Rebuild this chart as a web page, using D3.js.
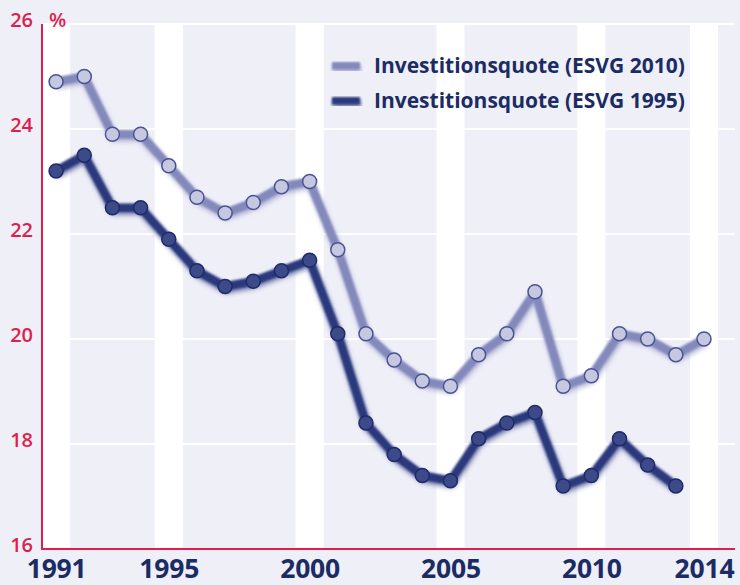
<!DOCTYPE html>
<html>
<head>
<meta charset="utf-8">
<script src="https://cdn.jsdelivr.net/npm/d3@7"></script>
<style>
html,body{margin:0;padding:0;background:#efeff8;}
svg{display:block;}
</style>
</head>
<body>
<svg id="chart" width="740" height="585"></svg>
<script>
const years = [1991,1992,1993,1994,1995,1996,1997,1998,1999,2000,2001,2002,2003,2004,2005,2006,2007,2008,2009,2010,2011,2012,2013,2014];
const esvg2010 = [24.9,25.0,23.9,23.9,23.3,22.7,22.4,22.6,22.9,23.0,21.7,20.1,19.6,19.2,19.1,19.7,20.1,20.9,19.1,19.3,20.1,20.0,19.7,20.0];
const esvg1995 = [23.2,23.5,22.5,22.5,21.9,21.3,21.0,21.1,21.3,21.5,20.1,18.4,17.8,17.4,17.3,18.1,18.4,18.6,17.2,17.4,18.1,17.6,17.2];
const xTicks = [1991,1995,2000,2005,2010,2014];
const yTicks = [16,18,20,22,24,26];
const seriesNames = ["Investitionsquote (ESVG 2010)","Investitionsquote (ESVG 1995)"];

(function(){
const svg = d3.select("#chart");
const W = 740, H = 585;
const pL = 42, pR = 735, pT = 24, pB = 549;

const x = d3.scaleLinear().domain([1990.5, 2015.1]).range([pL, pR]);
const y = d3.scaleLinear().domain([16, 26]).range([pB, pT]);

const RED = "#dc1f4f", NAVY = "#1b2c64";

svg.append("rect").attr("width", W).attr("height", H).attr("fill", "#efeff8");

const defs = svg.append("defs");
const f = defs.append("filter").attr("id","soft").attr("x","-10%").attr("y","-10%").attr("width","120%").attr("height","130%");
f.append("feGaussianBlur").attr("in","SourceGraphic").attr("stdDeviation",2.6).attr("result","b1");
f.append("feOffset").attr("in","b1").attr("dx",1).attr("dy",2.5).attr("result","o1");
f.append("feComponentTransfer").attr("in","o1").attr("result","o2")
  .append("feFuncA").attr("type","linear").attr("slope",0.6);
f.append("feGaussianBlur").attr("in","SourceGraphic").attr("stdDeviation",0.9).attr("result","b2");
const fm = f.append("feMerge");
fm.append("feMergeNode").attr("in","o2");
fm.append("feMergeNode").attr("in","b2");

// white vertical bands
svg.append("g").selectAll("rect").data(xTicks).join("rect")
  .attr("x", d => x(d - 0.5)).attr("width", d => x(d + 0.5) - x(d - 0.5))
  .attr("y", pT).attr("height", pB - pT).attr("fill", "#ffffff");

// white gridlines
svg.append("g").selectAll("line").data(yTicks.filter(d => d > 16)).join("line")
  .attr("x1", pL).attr("x2", pR).attr("y1", d => y(d)).attr("y2", d => y(d))
  .attr("stroke", "#ffffff").attr("stroke-width", 2.2);

// axes lines
svg.append("line").attr("x1", pL).attr("x2", pL).attr("y1", pT).attr("y2", pB)
  .attr("stroke", RED).attr("stroke-width", 2);
svg.append("line").attr("x1", pL - 1).attr("x2", pR).attr("y1", pB).attr("y2", pB)
  .attr("stroke", RED).attr("stroke-width", 2);

// y axis labels
const yAxis = svg.append("g").attr("transform", `translate(${pL},0)`)
  .call(d3.axisLeft(y).tickValues(yTicks).tickSize(0).tickPadding(9).tickFormat(d3.format("d")));
yAxis.select(".domain").remove();
yAxis.selectAll("text").attr("fill", RED).attr("font-family", "'Open Sans', sans-serif")
  .attr("font-size", 20).attr("font-weight", 600).attr("dy", "0.1em");
svg.append("text").attr("x", 49).attr("y", 27).attr("fill", RED)
  .attr("font-family", "'Open Sans', sans-serif").attr("font-size", 20).attr("font-weight", 600).text("%");

// x axis labels
const xAxis = svg.append("g").attr("transform", `translate(0,${pB})`)
  .call(d3.axisBottom(x).tickValues(xTicks).tickSize(0).tickFormat(d3.format("d")));
xAxis.select(".domain").remove();
xAxis.selectAll("text").attr("fill", NAVY).attr("font-family", "'Open Sans', sans-serif")
  .attr("font-size", 26.5).attr("font-weight", 700).attr("y", 28.5).attr("dy", 0).attr("letter-spacing", -0.2);

const line = d3.line().x(d => x(d[0])).y(d => y(d[1]));

const series = [
  {vals: esvg2010, line: "#8389bb", fill: "#c6c8e2", stroke: "#4a5392"},
  {vals: esvg1995, line: "#2a397b", fill: "#3d4a8a", stroke: "#1f2a68"}
];

series.forEach(s => {
  const pts = s.vals.map((v, i) => [years[i], v]);
  const g = svg.append("g");
  g.append("path").datum(pts).attr("d", line).attr("fill", "none")
    .attr("stroke", s.line).attr("stroke-width", 8.5).attr("stroke-linejoin", "round")
    .attr("filter", "url(#soft)");
  g.selectAll("circle").data(pts).join("circle")
    .attr("cx", d => x(d[0])).attr("cy", d => y(d[1])).attr("r", 7)
    .attr("fill", s.fill).attr("stroke", s.stroke).attr("stroke-width", 1.5);
});

// legend
const lg = svg.append("g");
seriesNames.forEach((name, i) => {
  const yy = 73 + i * 35;
  lg.append("rect").attr("x", 332).attr("y", yy - 11).attr("width", 28).attr("height", 7.5)
    .attr("fill", series[i].line).attr("filter", "url(#soft)");
  lg.append("text").attr("x", 374).attr("y", yy).attr("fill", NAVY)
    .attr("font-family", "'Open Sans', sans-serif").attr("font-size", 21).attr("font-weight", 700)
    .attr("letter-spacing", 0).text(name);
});
})();
</script>
</body>
</html>
